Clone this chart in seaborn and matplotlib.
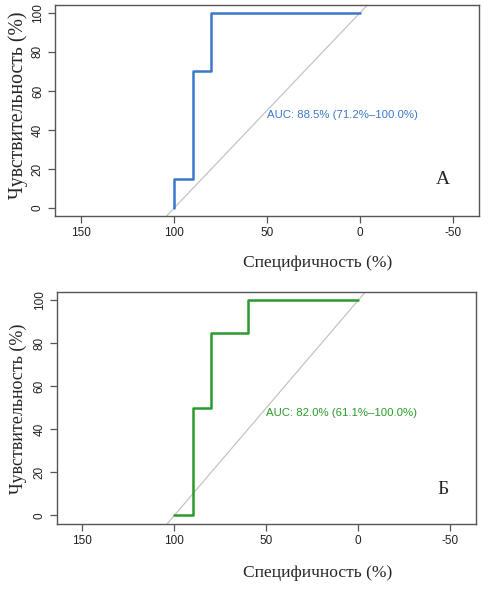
import matplotlib
matplotlib.use("Agg")
import matplotlib.pyplot as plt
import seaborn as sns
import pandas as pd

# ROC points, panel A
spec_a = [100, 100, 90, 90, 80, 80, 0]
sens_a = [0, 15, 15, 70, 70, 100, 100]
auc_a = "AUC: 88.5% (71.2%\u2013100.0%)"

# ROC points, panel B
spec_b = [100, 90, 90, 80, 80, 60, 60, 0]
sens_b = [0, 0, 50, 50, 85, 85, 100, 100]
auc_b = "AUC: 82.0% (61.1%\u2013100.0%)"

x_ticks = [150, 100, 50, 0, -50]
y_ticks = [0, 20, 40, 60, 80, 100]
panel_letters = ["\u0410", "\u0411"]
x_label = "Специфичность (%)"
y_label = "Чувствительность (%)"

sns.set_theme(style="white")
plt.rcParams['font.family'] = ['Liberation Sans', 'DejaVu Sans']


def draw_roc(ax, spec, sens, color, auc_text):
    df = pd.DataFrame({"spec": spec, "sens": sens})
    ax.axline((100, 0), (0, 100), color="#c4c4c4", lw=0.9, zorder=1)
    sns.lineplot(data=df, x="spec", y="sens", sort=False, estimator=None,
                 color=color, lw=1.8, ax=ax, zorder=2)
    ax.set_xlim(164, -64)
    ax.set_ylim(-4, 104)
    ax.set_xticks(x_ticks)
    ax.set_xticklabels([str(t) for t in x_ticks])
    ax.set_yticks(y_ticks)
    ax.set_yticklabels([str(t) for t in y_ticks], rotation=90, va="center")
    ax.tick_params(axis="both", length=5, width=0.9, color="#555555",
                   labelsize=8.5, labelcolor="#222222", pad=3, bottom=True, left=True)
    for s in ax.spines.values():
        s.set_color("#555555")
        s.set_linewidth(1.0)
    ax.set_xlabel("")
    ax.set_ylabel("")
    ax.text(50, 47.5, auc_text, color=color, fontsize=8.2, ha="left", va="center")


fig = plt.figure(figsize=(4.89, 5.94), dpi=100)
ax_a = fig.add_axes([0.1125, 0.6364, 0.867, 0.3552])
ax_b = fig.add_axes([0.116, 0.1178, 0.857, 0.3911])

draw_roc(ax_a, spec_a, sens_a, "#3a78c8", auc_a)
draw_roc(ax_b, spec_b, sens_b, "#2a9a2a", auc_b)

serif = ['Liberation Serif', 'DejaVu Serif']
W, H = 489, 594
fig.text(442.7 / W, 1 - 180 / H, panel_letters[0], family=serif, fontsize=14,
         ha="center", va="center")
fig.text(442.7 / W, 1 - 490 / H, panel_letters[1], family=serif, fontsize=14,
         ha="center", va="center")
fig.text(318 / W, 1 - 262.7 / H, x_label, family=serif, fontsize=12.6,
         ha="center", va="center")
fig.text(318 / W, 1 - 573 / H, x_label, family=serif, fontsize=12.6,
         ha="center", va="center")
fig.text(18 / W, 1 - 105 / H, y_label, family=serif, fontsize=14.2,
         ha="center", va="center", rotation=90)
fig.text(18 / W, 1 - 409 / H, y_label, family=serif, fontsize=13,
         ha="center", va="center", rotation=90)

fig.savefig("out.png", dpi=100)
plt.close(fig)
